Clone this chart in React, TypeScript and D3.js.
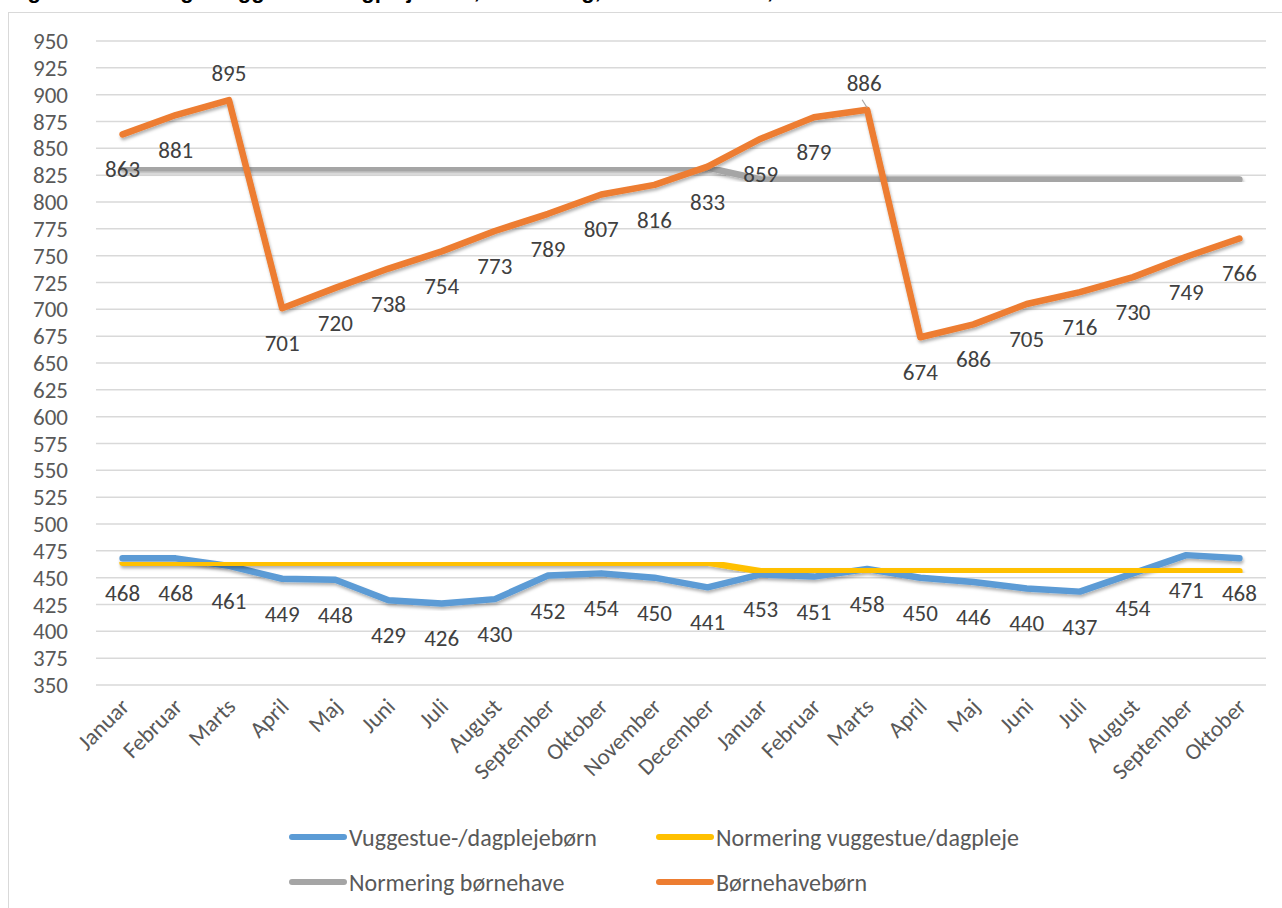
import React from 'react';
import * as d3 from 'd3';

// month labels, two years (Jan 1 - Dec 1, Jan 2 - Oct 2)
const months = [
  'Januar', 'Februar', 'Marts', 'April', 'Maj', 'Juni', 'Juli', 'August',
  'September', 'Oktober', 'November', 'December',
  'Januar', 'Februar', 'Marts', 'April', 'Maj', 'Juni', 'Juli', 'August',
  'September', 'Oktober',
];

const vuggestue = [468, 468, 461, 449, 448, 429, 426, 430, 452, 454, 450, 441,
  453, 451, 458, 450, 446, 440, 437, 454, 471, 468];
const normVuggestue = [464, 464, 464, 464, 464, 464, 464, 464, 464, 464, 464, 464,
  456, 456, 456, 456, 456, 456, 456, 456, 456, 456];
const normBornehave = [832, 832, 832, 832, 832, 832, 832, 832, 832, 832, 832, 832,
  821, 821, 821, 821, 821, 821, 821, 821, 821, 821];
const bornehave = [863, 881, 895, 701, 720, 738, 754, 773, 789, 807, 816, 833,
  859, 879, 886, 674, 686, 705, 716, 730, 749, 766];

const yTicks = d3.range(350, 951, 25);

const series = [
  { name: 'Vuggestue-/dagplejebørn', values: vuggestue, color: '#5b9bd5', labels: true },
  { name: 'Normering vuggestue/dagpleje', values: normVuggestue, color: '#ffc000', labels: false },
  { name: 'Normering børnehave', values: normBornehave, color: '#a5a5a5', labels: false },
  { name: 'Børnehavebørn', values: bornehave, color: '#ed7d31', labels: true },
];

const W = 1282, H = 908;
const FONT = "Carlito, Calibri, 'Liberation Sans', sans-serif";

export default function App() {
  const x = d3.scaleBand<number>()
    .domain(d3.range(months.length))
    .range([96, 1266]);
  const cx = (i: number) => (x(i) as number) + x.bandwidth() / 2;

  const y = d3.scaleLinear().domain([350, 950]).range([685, 41]);

  const line = d3.line<number>()
    .x((_, i) => cx(i))
    .y(d => y(d));

  // peaks of the børnehave series get their label above the point
  const isPeak = (v: number[], i: number) =>
    i > 0 && i < v.length - 1 && v[i] > v[i - 1] && v[i] > v[i + 1];

  return (
    <svg width={W} height={H} style={{ position: 'absolute', left: 0, top: 0 }}
      fontFamily={FONT}>
      <defs>
        <filter id="shadow" x="-5%" y="-5%" width="110%" height="120%">
          <feDropShadow dx="1" dy="2.5" stdDeviation="1.6" floodColor="#000" floodOpacity="0.3" />
        </filter>
      </defs>
      <rect x={0} y={0} width={W} height={H} fill="#fff" />

      {/* title, cut off by the top of the page like in the source */}
      <text x={8} y={-2} fontSize={22} fontWeight="bold" fill="#000"
        fontFamily="'Liberation Sans Narrow', 'Liberation Sans', sans-serif">
        Figur 1: Udvikling i vuggestue-/dagplejebørn, normering, børnehavebørn, 2019-2020
      </text>

      <rect x={8.5} y={12.5} width={1290} height={910} fill="none" stroke="#d9d9d9" strokeWidth={1} />

      {/* gridlines + y labels */}
      {yTicks.map(t => (
        <g key={t}>
          <line x1={96} x2={1266} y1={y(t)} y2={y(t)} stroke="#d9d9d9" strokeWidth={1.5} />
          <text x={68} y={y(t)} textAnchor="end" dominantBaseline="central"
            fontSize={23} fill="#595959">{t}</text>
        </g>
      ))}

      {/* x labels */}
      {months.map((m, i) => (
        <text key={i} transform={`translate(${cx(i) + 8},${708}) rotate(-45)`}
          textAnchor="end" fontSize={23} fill="#595959">{m}</text>
      ))}

      {/* lines */}
      {series.map(s => (
        <path key={s.name} d={line(s.values) || ''} fill="none" stroke={s.color}
          strokeWidth={6.5} strokeLinecap="round" strokeLinejoin="round" filter="url(#shadow)" />
      ))}

      {/* leader line for the second peak label */}
      <line x1={cx(14) - 5} y1={y(886) - 10} x2={cx(14)} y2={y(886) - 2}
        stroke="#a6a6a6" strokeWidth={1.2} />

      {/* data labels */}
      {series.filter(s => s.labels).map(s => s.values.map((v, i) => {
        const above = s.name === 'Børnehavebørn' && isPeak(s.values, i);
        const dx = above && i === 14 ? -3 : 0;
        return (
          <text key={s.name + i} x={cx(i) + dx} y={above ? y(v) - 27 : y(v) + 35}
            textAnchor="middle" dominantBaseline="central" fontSize={23} fill="#404040">
            {v}
          </text>
        );
      }))}

      {/* legend */}
      {series.map((s, i) => {
        const lx = i % 2 === 0 ? 292 : 659;
        const ly = i < 2 ? 837 : 882;
        return (
          <g key={s.name}>
            <line x1={lx} x2={lx + 52} y1={ly} y2={ly} stroke={s.color}
              strokeWidth={6} strokeLinecap="round" />
            <text x={lx + 57} y={ly} dominantBaseline="central" fontSize={24} fill="#595959">
              {s.name}
            </text>
          </g>
        );
      })}
    </svg>
  );
}
